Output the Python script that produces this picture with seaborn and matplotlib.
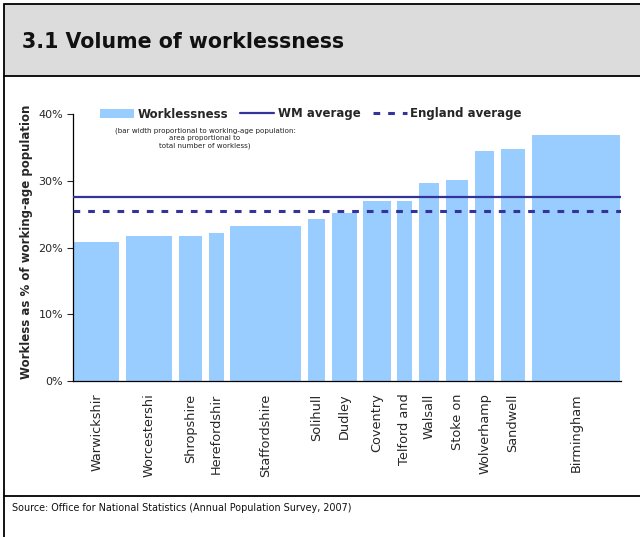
import numpy as np
import pandas as pd
import matplotlib
matplotlib.use("Agg")
import matplotlib.pyplot as plt
import seaborn as sns
from matplotlib.patches import Rectangle, Patch
from matplotlib.lines import Line2D

# data
areas = ["Warwickshir", "Worcestershi", "Shropshire", "Herefordshir", "Staffordshire",
         "Solihull", "Dudley", "Coventry", "Telford and", "Walsall", "Stoke on",
         "Wolverhamp", "Sandwell", "Birmingham"]
workless_pct = [20.8, 21.7, 21.7, 22.2, 23.2, 24.3, 25.2, 27.0, 27.0, 29.7, 30.1, 34.5, 34.8, 36.9]
working_age_pop = [320, 327, 163, 105, 498, 121, 178, 192, 102, 147, 158, 136, 168, 624]  # thousands
wm_average = 27.6
england_average = 25.5

BAR = "#99CCFF"
NAVY = "#333399"

sns.set_style("white")
plt.rcParams["font.family"] = ["DejaVu Sans"]

df = pd.DataFrame({"area": areas, "pct": workless_pct, "pop": working_age_pop})
gap = 47.6
margin = 7.0
df["left"] = margin + np.concatenate([[0], np.cumsum(df["pop"].values[:-1] + gap)])
df["center"] = df["left"] + df["pop"] / 2

fig = plt.figure(figsize=(6.4, 5.37), dpi=100)
W, H = 640, 537

# frame: header box, left rule, source rule
fig.add_artist(Rectangle((4 / W, 1 - 76 / H), 1 - 4 / W + 0.01, 72 / H, transform=fig.transFigure,
                         facecolor="#DCDCDC", edgecolor="black", linewidth=1.3))
fig.add_artist(Line2D([4 / W, 4 / W], [0, 1 - 76 / H], transform=fig.transFigure, color="black", lw=1.3))
fig.add_artist(Line2D([4 / W, 1], [1 - 496 / H, 1 - 496 / H], transform=fig.transFigure, color="black", lw=1.3))
fig.text(22 / W, 1 - 42 / H, "3.1 Volume of worklessness", fontsize=14.8, fontweight="bold",
         va="center", ha="left", color="#111111")
fig.text(12 / W, 1 - 508 / H, "Source: Office for National Statistics (Annual Population Survey, 2007)",
         fontsize=6.9, va="center", ha="left", color="#111111")

ax = fig.add_axes([73 / W, 1 - 381 / H, 548 / W, 267 / H])
ax.bar(df["left"], df["pct"], width=df["pop"], align="edge", color=BAR, edgecolor="none", zorder=1)
ax.axhline(wm_average, color=NAVY, lw=1.6, zorder=3)
ax.axhline(england_average, color=NAVY, lw=2.2, dashes=(2.2, 2.6), zorder=3)

ax.set_xlim(0, df["left"].iloc[-1] + df["pop"].iloc[-1] + margin)
ax.set_ylim(0, 40)
ax.set_yticks([0, 10, 20, 30, 40])
ax.set_yticklabels([f"{v}%" for v in [0, 10, 20, 30, 40]], fontsize=8)
ax.set_xticks(df["center"])
ax.set_xticklabels(df["area"], rotation=90, fontsize=9.3, va="top", ha="center")
ax.tick_params(axis="x", length=0, pad=9)
ax.tick_params(axis="y", length=4, width=0.8, pad=3, direction="out", left=True)
ax.set_ylabel("Workless as % of working-age population", fontsize=8.5, fontweight="bold")
ax.yaxis.set_label_coords(-0.073, 0.52)
for side in ["top", "right"]:
    ax.spines[side].set_visible(False)
for side in ["left", "bottom"]:
    ax.spines[side].set_color("black")
    ax.spines[side].set_linewidth(0.9)

handles = [Patch(facecolor=BAR, edgecolor="none"),
           Line2D([], [], color=NAVY, lw=1.6),
           Line2D([], [], color=NAVY, lw=2.2, dashes=(2.2, 2.6))]
leg = ax.legend(handles, ["Worklessness", "WM average", "England average"], ncol=3,
                loc="center left", bbox_to_anchor=(27 / 548, 1.0), frameon=False,
                handlelength=2.9, handleheight=0.75, handletextpad=0.3, columnspacing=1.0,
                borderaxespad=0, borderpad=0, prop={"size": 8.5, "weight": "bold"})

ax.text(132 / 548, (381 - 138) / 267,
        "(bar width proportional to working-age population:\narea proportional to\ntotal number of workless)",
        transform=ax.transAxes, ha="center", va="center", fontsize=5.1, linespacing=1.3, color="#222222")

fig.savefig("out.png", dpi=100)
